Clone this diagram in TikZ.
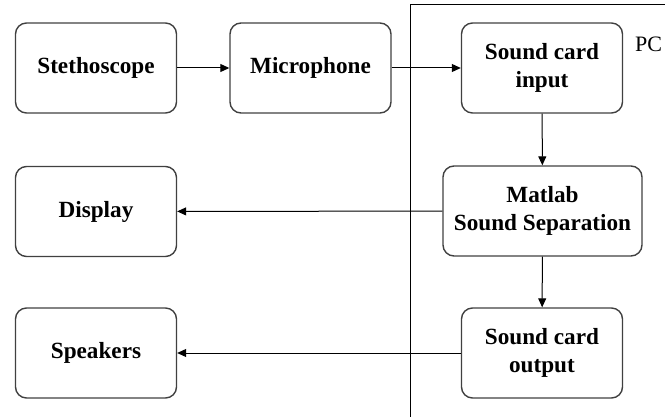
\documentclass[tikz,border=0pt]{standalone}
\usepackage{fontspec}
\setmainfont{Liberation Serif}
\usetikzlibrary{arrows.meta}
\begin{document}
\begin{tikzpicture}[x=1pt,y=-1pt,
  blk/.style={draw=black!75, line width=1.4pt, rounded corners=11pt, minimum width=161pt, minimum height=90pt, inner sep=0pt, align=center, font=\fontsize{23.2}{28.5}\selectfont\bfseries},
  conn/.style={line width=1pt, -{Triangle[length=9pt,width=8pt]}},
  frame/.style={line width=1pt}]
\useasboundingbox (0,0) rectangle (665,417);
\node[blk] (steth) at (96,68) {Stethoscope};
\node[blk] (mic) at (310.5,68) {Microphone};
\node[blk] (sin) at (542,68) {Sound card\\input};
\node[blk, minimum width=199pt] (mat) at (542.5,211) {Matlab\\Sound Separation};
\node[blk] (sout) at (542,353) {Sound card\\output};
\node[blk] (disp) at (96,211.5) {Display};
\node[blk] (spk) at (96,353) {Speakers};
\coordinate (pctr) at (665,5);
\coordinate (pctl) at (410,5);
\coordinate (pcbl) at (410,417);
\draw[frame] (pctr) -- (pctl) -- (pcbl);
\node[anchor=west, inner sep=0pt, font=\fontsize{22}{26}\selectfont] (pc) at (635,44) {PC};
\draw[conn] (steth) -- (mic);
\draw[conn] (mic) -- (sin);
\draw[conn] (sin) -- (mat);
\draw[conn] (mat) -- (sout);
\draw[conn] (mat) -- (disp);
\draw[conn] (sout) -- (spk);
\end{tikzpicture}
\end{document}
